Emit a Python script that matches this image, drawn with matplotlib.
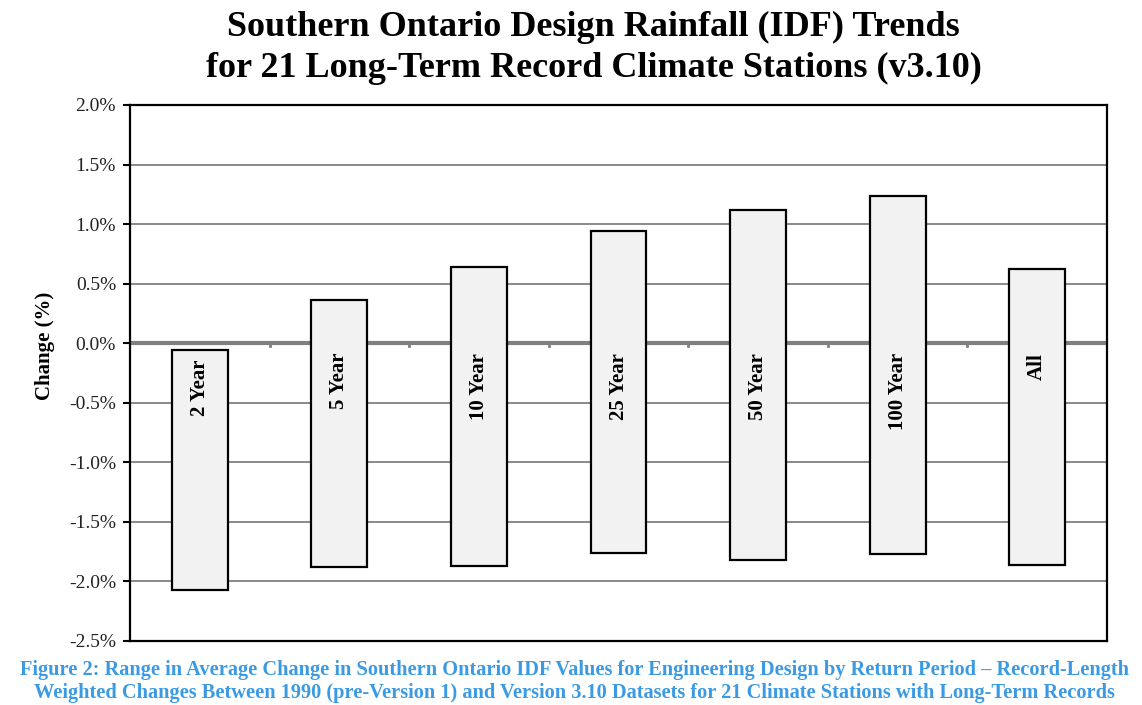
import numpy as np
import matplotlib
matplotlib.use("Agg")
import matplotlib.pyplot as plt
from matplotlib.ticker import FuncFormatter, MultipleLocator

# Plage de variation (%) par période de retour
periodes = ["2 Year", "5 Year", "10 Year", "25 Year", "50 Year", "100 Year", "All"]
haut = [-0.06, 0.36, 0.64, 0.94, 1.12, 1.24, 0.62]
bas = [-2.07, -1.88, -1.87, -1.76, -1.82, -1.77, -1.86]

titre = ("Southern Ontario Design Rainfall (IDF) Trends\n"
         "for 21 Long-Term Record Climate Stations (v3.10)")
legende = ("Figure 2: Range in Average Change in Southern Ontario IDF Values for Engineering Design by Return Period \u2013 Record-Length\n"
           "Weighted Changes Between 1990 (pre-Version 1) and Version 3.10 Datasets for 21 Climate Stations with Long-Term Records")

plt.rcParams["font.family"] = ["Liberation Serif", "DejaVu Serif"]

fig = plt.figure(figsize=(11.42, 7.05), dpi=100)
ax = fig.add_axes([0.1138, 0.0908, 0.8556, 0.7603])

x = np.arange(len(periodes))
hauteurs = np.array(haut) - np.array(bas)
ax.bar(x, hauteurs, bottom=bas, width=0.4, color="#f2f2f2",
       edgecolor="black", linewidth=1.6, zorder=3)

# ligne du zéro et repères entre catégories
ax.axhline(0, color="#808080", linewidth=3, zorder=2)
for b in x[:-1] + 0.5:
    ax.plot([b, b], [0, -0.025], color="#808080", linewidth=2, zorder=2)

for xi, h, nom in zip(x, haut, periodes):
    ax.text(xi, min(h, 0) - 0.08, nom, rotation=90, ha="center", va="top",
            fontsize=15, fontweight="bold", zorder=4)

ax.set_xlim(-0.5, len(periodes) - 0.5)
ax.set_ylim(-2.5, 2.0)
ax.yaxis.set_major_locator(MultipleLocator(0.5))
ax.yaxis.set_major_formatter(FuncFormatter(lambda v, p: f"{v:.1f}%"))
ax.set_xticks([])
ax.grid(axis="y", color="#808080", linewidth=1.3, zorder=1)
ax.set_axisbelow(True)
for s in ax.spines.values():
    s.set_linewidth(1.6)
ax.tick_params(axis="y", labelsize=14, length=5, width=1.5, pad=5,
               labelcolor="#222222")
ax.set_ylabel("Change (%)", fontsize=15, fontweight="bold")
ax.yaxis.set_label_coords(-0.077, 0.55)

fig.text(0.52, 0.984, titre, ha="center", va="top", fontsize=26,
         fontweight="bold", linespacing=1.3)
fig.text(0.503, 0.064, legende, ha="center", va="top", fontsize=14.7,
         fontweight="bold", color="#3b9ae1", linespacing=1.18)

fig.savefig("out.png", dpi=100)
